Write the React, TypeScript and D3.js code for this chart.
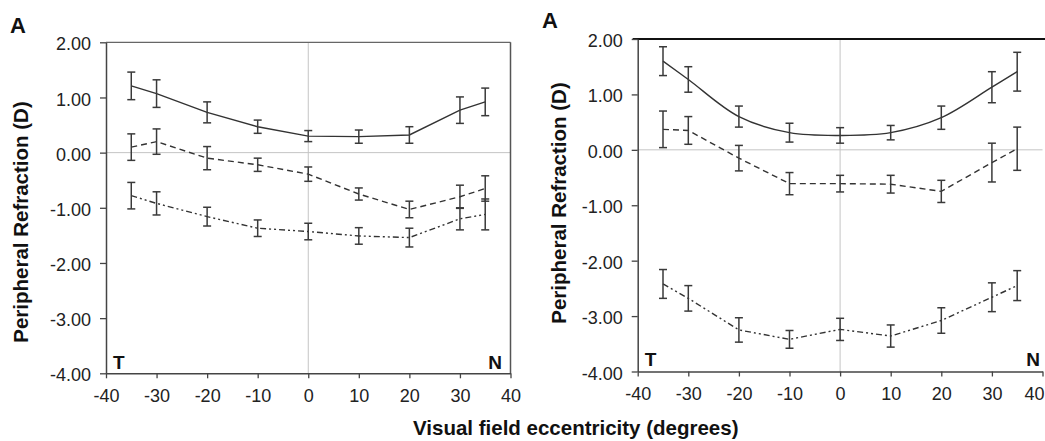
import React, { useEffect, useRef } from 'react';
import * as d3 from 'd3';

// eccentricity (degrees) shared by every series
const ecc = [-35, -30, -20, -10, 0, 10, 20, 30, 35];
const xTicks = [-40, -30, -20, -10, 0, 10, 20, 30, 40];
const yTicks = [2, 1, 0, -1, -2, -3, -4];

// left panel
const leftSolid = [1.21, 1.07, 0.73, 0.47, 0.3, 0.29, 0.32, 0.77, 0.92];
const leftSolidErr = [0.25, 0.25, 0.19, 0.12, 0.1, 0.12, 0.15, 0.24, 0.25];
const leftDashed = [0.1, 0.2, -0.1, -0.22, -0.39, -0.75, -1.03, -0.8, -0.65];
const leftDashedErr = [0.24, 0.23, 0.21, 0.12, 0.13, 0.11, 0.15, 0.21, 0.23];
const leftDotted = [-0.78, -0.92, -1.16, -1.37, -1.43, -1.51, -1.54, -1.2, -1.12];
const leftDottedErr = [0.24, 0.21, 0.17, 0.15, 0.15, 0.15, 0.17, 0.2, 0.28];

// right panel
const rightSolid = [1.6, 1.27, 0.6, 0.31, 0.26, 0.31, 0.58, 1.13, 1.41];
const rightSolidErr = [0.26, 0.23, 0.19, 0.17, 0.14, 0.13, 0.21, 0.28, 0.35];
const rightDashed = [0.37, 0.35, -0.15, -0.61, -0.61, -0.62, -0.75, -0.23, 0.02];
const rightDashedErr = [0.33, 0.25, 0.23, 0.2, 0.15, 0.16, 0.2, 0.35, 0.39];
const rightDotted = [-2.42, -2.68, -3.25, -3.42, -3.24, -3.36, -3.08, -2.66, -2.45];
const rightDottedErr = [0.26, 0.23, 0.22, 0.16, 0.2, 0.2, 0.23, 0.26, 0.27];

const FONT = 'Arial, "Liberation Sans", Helvetica, sans-serif';
const DASHED = '6,4';
const DOTDOT = '6,3,2,3,2,3';

type Series = { vals: number[]; err: number[]; dash: string | null; smooth: boolean };

export default function App() {
  const svgRef = useRef<SVGSVGElement>(null);

  useEffect(() => {
    const svg = d3.select(svgRef.current);
    svg.selectAll('*').remove();

    const panels = [
      {
        x0: 106, x1: 510.5, y0: 373.3, y1: 42.3, letterX: 10, letterY: 33,
        titleX: 28, titleY: 222, tY: 369, nX: 502,
        series: [
          { vals: leftSolid, err: leftSolidErr, dash: null, smooth: false },
          { vals: leftDashed, err: leftDashedErr, dash: DASHED, smooth: false },
          { vals: leftDotted, err: leftDottedErr, dash: DOTDOT, smooth: false },
        ] as Series[],
        right: true,
      },
      {
        x0: 637.7, x1: 1042.5, y0: 371.5, y1: 39, letterX: 542, letterY: 28,
        titleX: 566, titleY: 203, tY: 366, nX: 1040,
        series: [
          { vals: rightSolid, err: rightSolidErr, dash: null, smooth: true },
          { vals: rightDashed, err: rightDashedErr, dash: DASHED, smooth: false },
          { vals: rightDotted, err: rightDottedErr, dash: DOTDOT, smooth: false },
        ] as Series[],
        right: false,
      },
    ];

    panels.forEach(p => {
      const x = d3.scaleLinear().domain([-40, 40]).range([p.x0, p.x1]);
      const y = d3.scaleLinear().domain([-4, 2]).range([p.y0, p.y1]);
      const g = svg.append('g');

      // zero gridlines
      g.append('line')
        .attr('x1', p.x0).attr('x2', p.x1)
        .attr('y1', y(0)).attr('y2', y(0))
        .attr('stroke', '#c4c4c4').attr('stroke-width', 1);
      g.append('line')
        .attr('x1', x(0)).attr('x2', x(0))
        .attr('y1', p.y0).attr('y2', p.y1)
        .attr('stroke', '#c4c4c4').attr('stroke-width', 1);

      // frame
      if (p.right) {
        g.append('line')
          .attr('x1', p.x0).attr('x2', p.x1).attr('y1', p.y1).attr('y2', p.y1)
          .attr('stroke', '#666').attr('stroke-width', 1.2);
        g.append('line')
          .attr('x1', p.x1).attr('x2', p.x1).attr('y1', p.y1).attr('y2', p.y0)
          .attr('stroke', '#555').attr('stroke-width', 1.5);
      } else {
        g.append('line')
          .attr('x1', p.x0 - 5).attr('x2', 1045).attr('y1', p.y1).attr('y2', p.y1)
          .attr('stroke', '#111').attr('stroke-width', 2);
      }

      // axes
      const yAxis = g.append('g')
        .attr('transform', `translate(${p.x0},0)`)
        .call(d3.axisLeft(y).tickValues(yTicks).tickSize(6).tickSizeOuter(0).tickPadding(9)
          .tickFormat(d => (+d).toFixed(2)));
      const xAxis = g.append('g')
        .attr('transform', `translate(0,${p.y0})`)
        .call(d3.axisBottom(x).tickValues(xTicks).tickSize(5).tickSizeOuter(0).tickPadding(11)
          .tickFormat(d => String(d)));
      [yAxis, xAxis].forEach(a => {
        a.select('.domain').attr('stroke', '#444').attr('stroke-width', 1.5);
        a.selectAll('.tick line').attr('stroke', '#444').attr('stroke-width', 1.3);
        a.selectAll('text').attr('font-family', FONT).attr('font-size', 18).attr('fill', '#222');
      });
      yAxis.selectAll('text').attr('dy', '0.42em');
      // keep the last label of the right panel inside the page
      if (!p.right) {
        xAxis.selectAll<SVGTextElement, number>('text')
          .filter(d => d === 40)
          .attr('text-anchor', 'end')
          .attr('x', 1044 - p.x1);
      }

      // series
      p.series.forEach(s => {
        const pts = s.vals.map((v, i) => [ecc[i], v] as [number, number]);
        const line = d3.line<[number, number]>()
          .x(d => x(d[0])).y(d => y(d[1]))
          .curve(s.smooth ? d3.curveCatmullRom : d3.curveLinear);
        g.append('path')
          .attr('d', line(pts))
          .attr('fill', 'none')
          .attr('stroke', '#333')
          .attr('stroke-width', 1.4)
          .attr('stroke-dasharray', s.dash);

        const bars = g.append('g').attr('stroke', '#3a3a3a').attr('stroke-width', 1.5);
        pts.forEach((d, i) => {
          const cx = x(d[0]);
          const top = y(d[1] + s.err[i]);
          const bot = y(d[1] - s.err[i]);
          bars.append('line').attr('x1', cx).attr('x2', cx).attr('y1', top).attr('y2', bot);
          bars.append('line').attr('x1', cx - 4).attr('x2', cx + 4).attr('y1', top).attr('y2', top);
          bars.append('line').attr('x1', cx - 4).attr('x2', cx + 4).attr('y1', bot).attr('y2', bot);
        });
      });

      // T / N markers
      g.append('text')
        .attr('x', p.x0 + 7).attr('y', p.tY)
        .attr('font-family', FONT).attr('font-weight', 'bold').attr('font-size', 19).attr('fill', '#111')
        .text('T');
      g.append('text')
        .attr('x', p.nX).attr('y', p.tY).attr('text-anchor', 'end')
        .attr('font-family', FONT).attr('font-weight', 'bold').attr('font-size', 19).attr('fill', '#111')
        .text('N');

      // panel letter
      svg.append('text')
        .attr('x', p.letterX).attr('y', p.letterY)
        .attr('font-family', FONT).attr('font-weight', 'bold').attr('font-size', 22).attr('fill', '#111')
        .text('A');

      // y title
      svg.append('text')
        .attr('transform', `translate(${p.titleX},${p.titleY}) rotate(-90)`)
        .attr('text-anchor', 'middle')
        .attr('font-family', FONT).attr('font-weight', 'bold').attr('font-size', 20.5).attr('fill', '#111')
        .text('Peripheral Refraction (D)');
    });

    // shared x title
    svg.append('text')
      .attr('x', 413).attr('y', 435)
      .attr('font-family', FONT).attr('font-weight', 'bold').attr('font-size', 20.5).attr('fill', '#111')
      .text('Visual field eccentricity (degrees)');
  }, []);

  return (
    <div style={{ position: 'fixed', left: 0, top: 0, width: 1045, height: 441, background: '#fff' }}>
      <svg ref={svgRef} width={1045} height={441} style={{ display: 'block' }}></svg>
    </div>
  );
}
